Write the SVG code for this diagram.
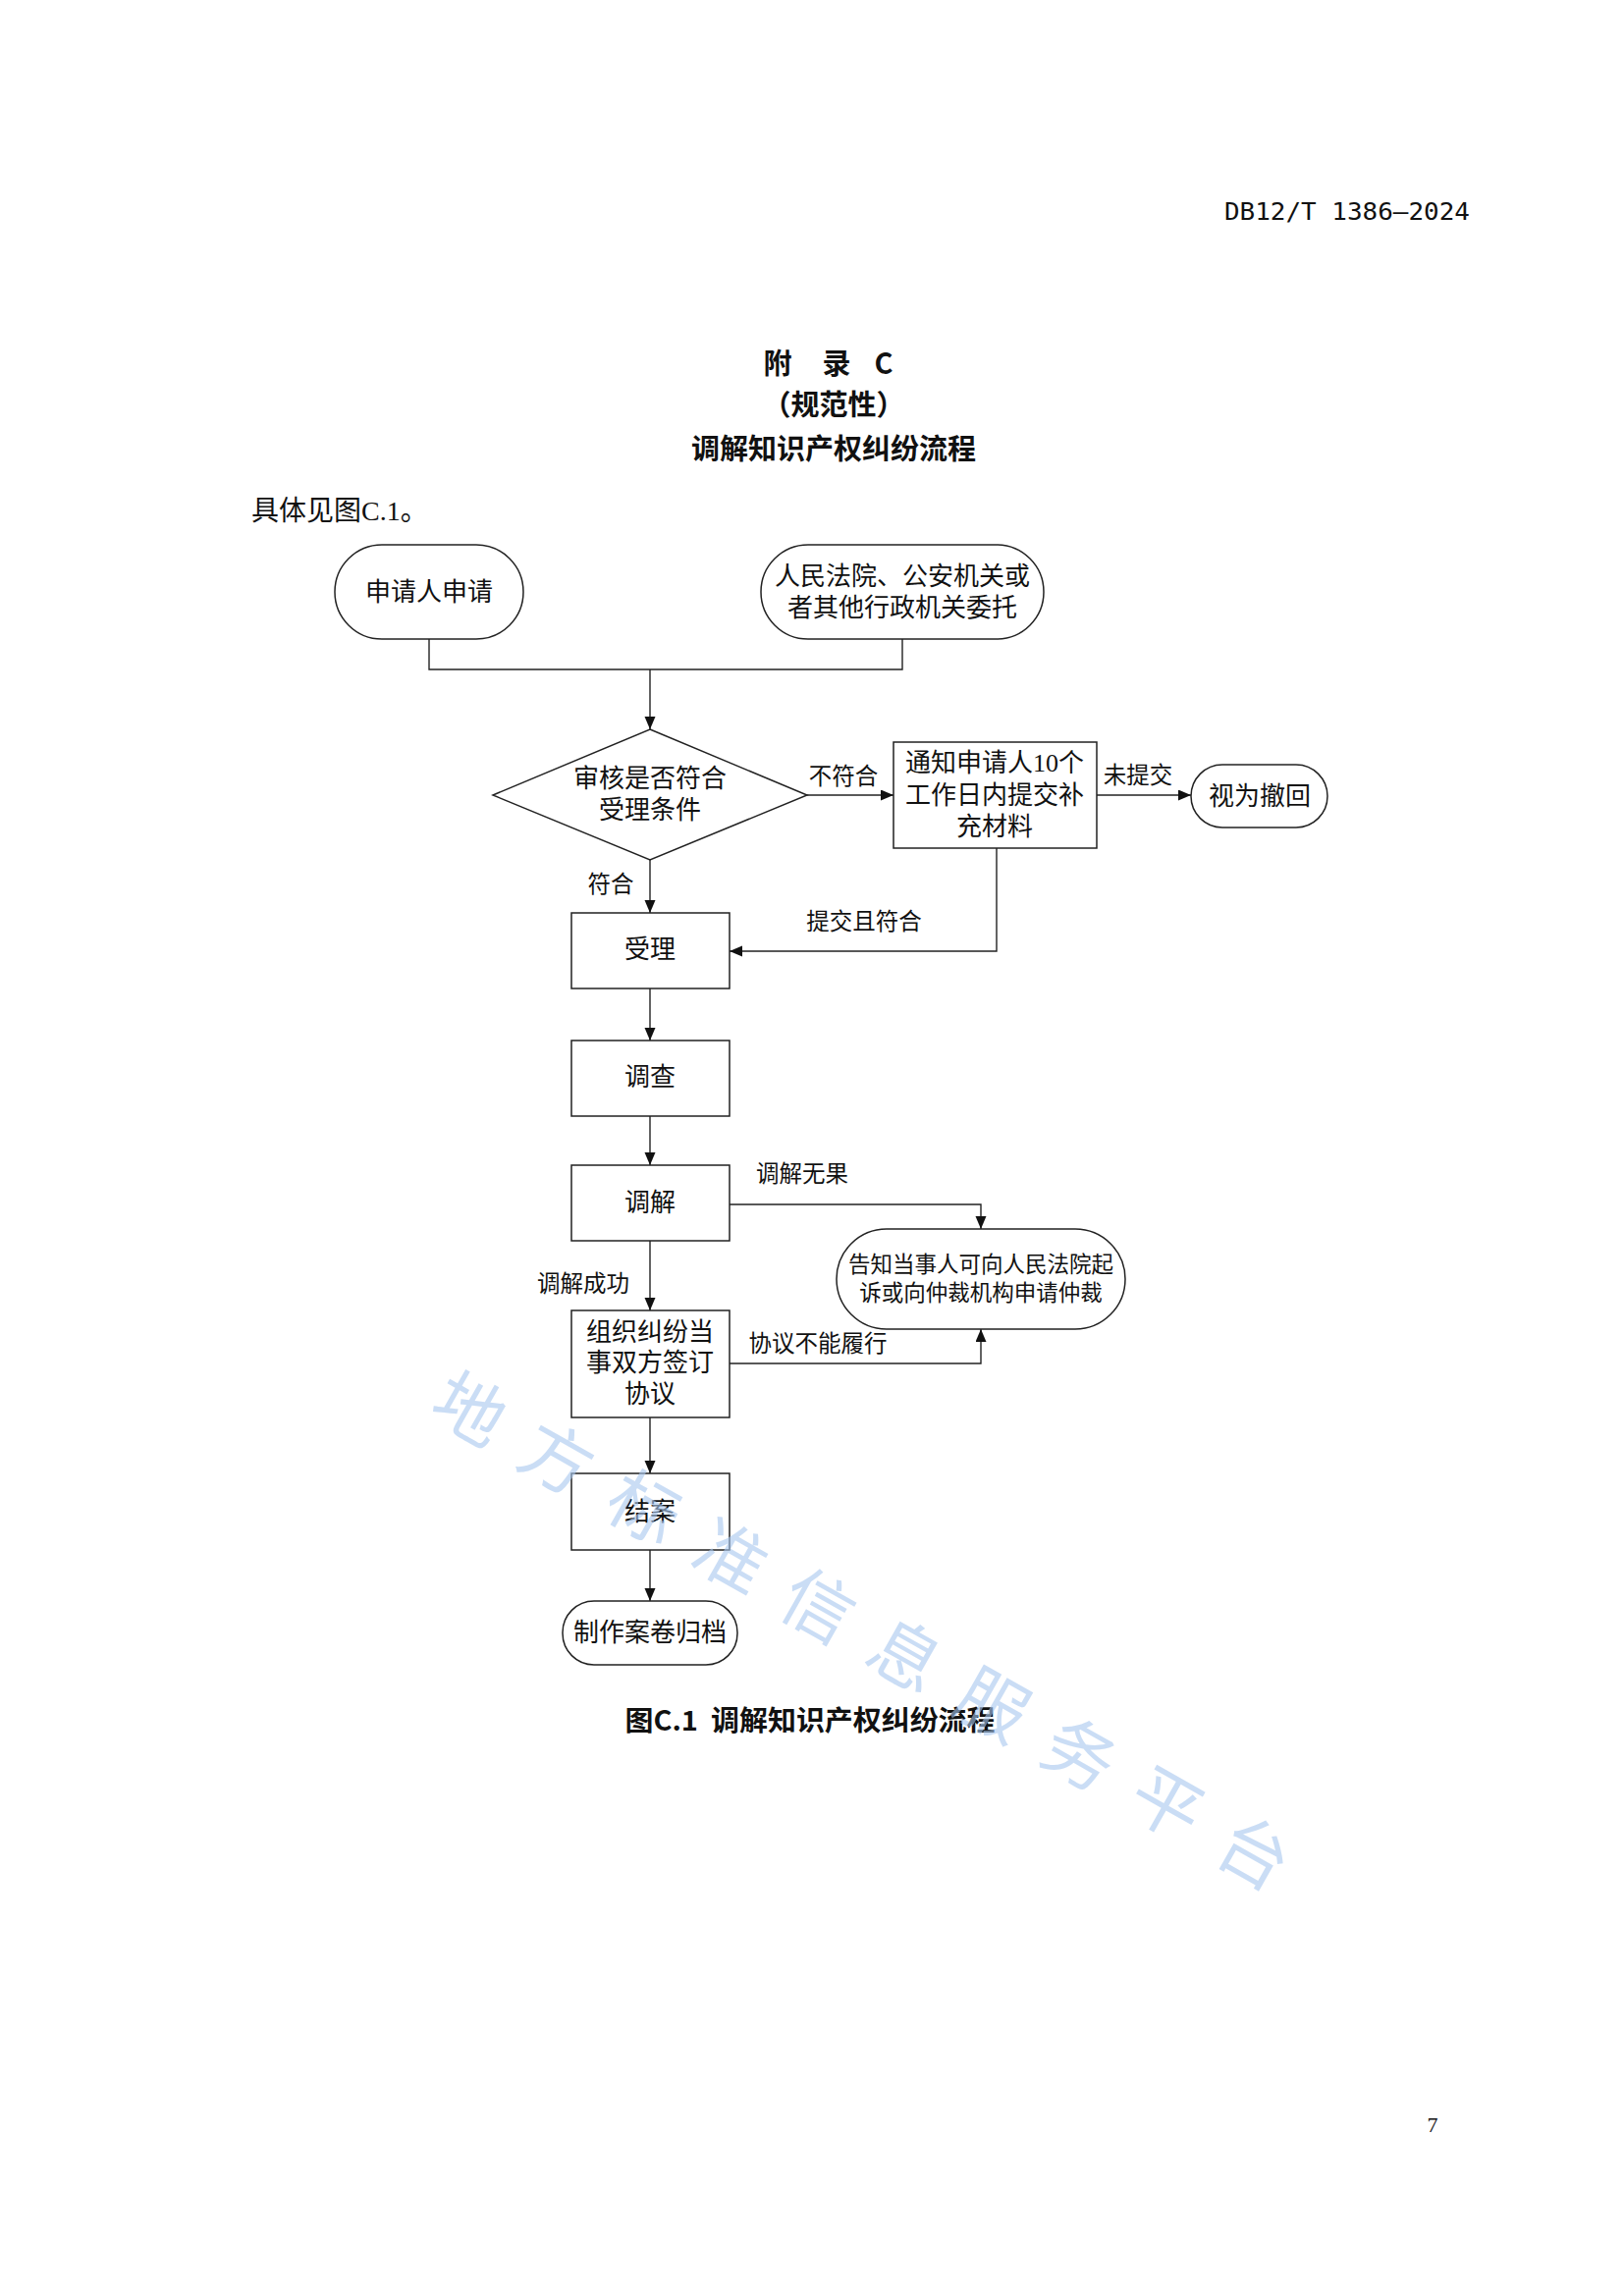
<svg xmlns="http://www.w3.org/2000/svg" width="1654" height="2339" viewBox="0 0 1654 2339">
<defs>
<marker id="arr" markerUnits="userSpaceOnUse" markerWidth="14" markerHeight="12" refX="13" refY="5.5" orient="auto">
<path d="M0,0 L13,5.5 L0,11 Z" fill="#111"/>
</marker>
</defs>
<style>
.t{font-family:"Liberation Serif","Noto Sans CJK SC",serif;fill:#111;font-size:26px;text-anchor:middle;dominant-baseline:central}
.lb{font-family:"Liberation Serif","Noto Sans CJK SC",serif;fill:#111;font-size:23.5px;text-anchor:middle;dominant-baseline:central}
.sm{font-size:22.5px}
.h{font-family:"Noto Sans CJK SC",sans-serif;font-weight:bold;fill:#111;font-size:29px;text-anchor:middle;dominant-baseline:central}
.box{fill:#fff;stroke:#222;stroke-width:1.5}
.ln{fill:none;stroke:#222;stroke-width:1.4}
.wm{font-family:"Noto Sans CJK SC",sans-serif;font-weight:400;font-size:72px;fill:#a8c8f0;opacity:0.6;letter-spacing:30px;dominant-baseline:central}
</style>
<rect width="1654" height="2339" fill="#fff"/>

<g id="header">
<text x="1372" y="215" font-family="DejaVu Sans Mono,monospace" font-size="25" fill="#111" text-anchor="middle" dominant-baseline="central" textLength="250" lengthAdjust="spacingAndGlyphs">DB12/T 1386—2024</text>
<text class="h" x="792" y="368">附</text>
<text class="h" x="852" y="368">录</text>
<text class="h" x="900" y="368">C</text>
<text class="h" x="849" y="410">（规范性）</text>
<text class="h" x="849" y="455">调解知识产权纠纷流程</text>
<text x="256" y="520" font-family="Liberation Serif,Noto Sans CJK SC,serif" font-size="28" fill="#111" dominant-baseline="central">具体见图C.1。</text>
</g>

<g id="connectors">
<path class="ln" d="M437,651 V682 H919 V651"/>
<path class="ln" d="M662,682 V743" marker-end="url(#arr)"/>
<path class="ln" d="M822,810 H910" marker-end="url(#arr)"/>
<path class="ln" d="M1117,810 H1213" marker-end="url(#arr)"/>
<path class="ln" d="M662,876 V930" marker-end="url(#arr)"/>
<path class="ln" d="M1015,864 V969 H743" marker-end="url(#arr)"/>
<path class="ln" d="M662,1007 V1060" marker-end="url(#arr)"/>
<path class="ln" d="M662,1137 V1187" marker-end="url(#arr)"/>
<path class="ln" d="M743,1227 H999 V1252" marker-end="url(#arr)"/>
<path class="ln" d="M662,1264 V1335" marker-end="url(#arr)"/>
<path class="ln" d="M743,1389 H999 V1354" marker-end="url(#arr)"/>
<path class="ln" d="M662,1444 V1501" marker-end="url(#arr)"/>
<path class="ln" d="M662,1579 V1631" marker-end="url(#arr)"/>
<text class="lb" x="859" y="791">不符合</text>
<text class="lb" x="1159" y="790">未提交</text>
<text class="lb" x="622" y="901">符合</text>
<text class="lb" x="880" y="939">提交且符合</text>
<text class="lb" x="817" y="1196">调解无果</text>
<text class="lb" x="594" y="1308">调解成功</text>
<text class="lb" x="833" y="1369">协议不能履行</text>
</g>

<g id="n-apply">
<rect class="box" x="341" y="555" width="192" height="96" rx="48" ry="48"/>
<text class="t" x="437" y="603">申请人申请</text>
</g>
<g id="n-entrust">
<rect class="box" x="775" y="555" width="288" height="96" rx="48" ry="48"/>
<text class="t" x="919" y="587">人民法院、公安机关或</text>
<text class="t" x="919" y="619">者其他行政机关委托</text>
</g>
<g id="n-review">
<polygon class="box" points="662,743 822,810 662,876 502,810"/>
<text class="t" x="662" y="793">审核是否符合</text>
<text class="t" x="662" y="825">受理条件</text>
</g>
<g id="n-notify">
<rect class="box" x="910" y="756" width="207" height="108"/>
<text class="t" x="1013" y="777">通知申请人10个</text>
<text class="t" x="1013" y="810">工作日内提交补</text>
<text class="t" x="1013" y="842">充材料</text>
</g>
<g id="n-withdraw">
<rect class="box" x="1213" y="779" width="139" height="64" rx="32" ry="32"/>
<text class="t" x="1283" y="811">视为撤回</text>
</g>
<g id="n-accept">
<rect class="box" x="582" y="930" width="161" height="77"/>
<text class="t" x="662" y="967">受理</text>
</g>
<g id="n-investigate">
<rect class="box" x="582" y="1060" width="161" height="77"/>
<text class="t" x="662" y="1097">调查</text>
</g>
<g id="n-mediate">
<rect class="box" x="582" y="1187" width="161" height="77"/>
<text class="t" x="662" y="1225">调解</text>
</g>
<g id="n-inform">
<rect class="box" x="852" y="1252" width="294" height="102" rx="51" ry="51"/>
<text class="t sm" x="999" y="1288">告知当事人可向人民法院起</text>
<text class="t sm" x="999" y="1317">诉或向仲裁机构申请仲裁</text>
</g>
<g id="n-agreement">
<rect class="box" x="582" y="1335" width="161" height="109"/>
<text class="t" x="662" y="1357">组织纠纷当</text>
<text class="t" x="662" y="1388">事双方签订</text>
<text class="t" x="662" y="1420">协议</text>
</g>
<g id="n-close">
<rect class="box" x="582" y="1501" width="161" height="78"/>
<text class="t" x="662" y="1540">结案</text>
</g>
<g id="n-archive">
<rect class="box" x="573" y="1631" width="178" height="65" rx="32" ry="32"/>
<text class="t" x="662" y="1663">制作案卷归档</text>
</g>

<g id="caption">
<text x="825" y="1751" font-family="Noto Sans CJK SC,sans-serif" font-weight="bold" font-size="28" fill="#111" text-anchor="middle" dominant-baseline="central" textLength="377" lengthAdjust="spacingAndGlyphs" xml:space="preserve">图C.1  调解知识产权纠纷流程</text>
<text x="1459" y="2164" font-family="Liberation Serif,serif" font-size="22" fill="#111" text-anchor="middle" dominant-baseline="central">7</text>
</g>

<g id="watermark" transform="translate(481,1431) rotate(29.5)">
<text class="wm" x="-36" y="0">地方标准信息服务平台</text>
</g>
</svg>
